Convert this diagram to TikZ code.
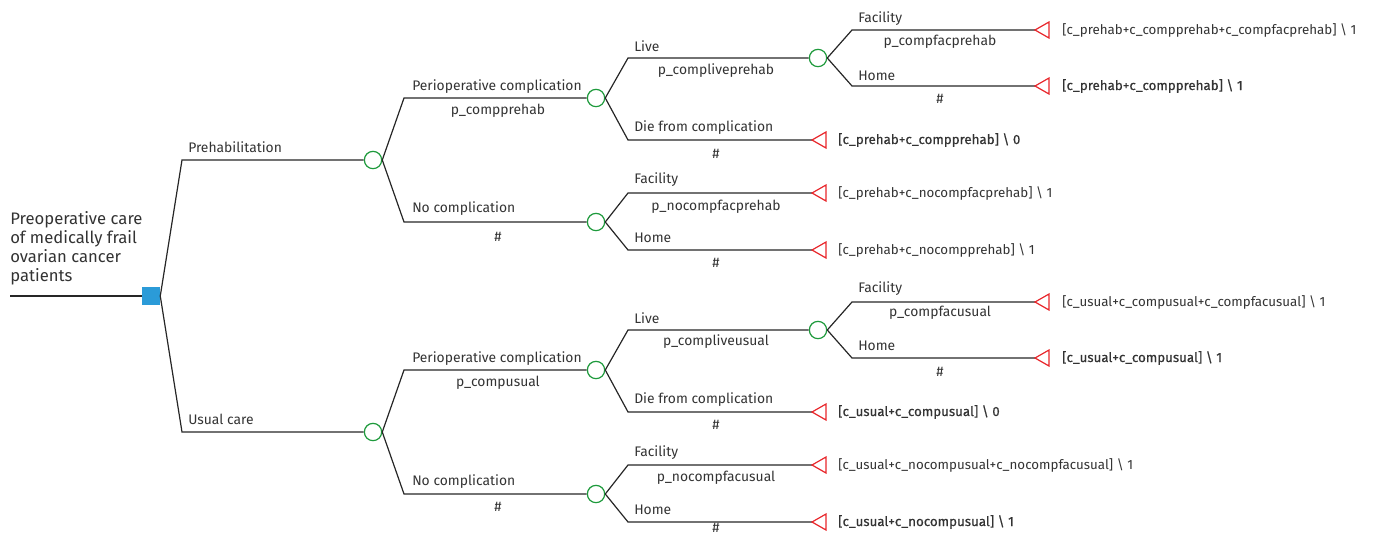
\documentclass[tikz,border=0pt]{standalone}
\usepackage{fontspec}
\setmainfont{Fira Sans}
\newfontfamily\medfont{Fira Sans}[FakeBold=0.6]
\usepackage{tikz}
\definecolor{sqblue}{HTML}{2B9BD8}
\definecolor{chgreen}{HTML}{1E9A3C}
\definecolor{tmred}{HTML}{E8262B}

\begin{document}
\begin{tikzpicture}[x=0.75pt, y=-0.75pt,
		branch/.style={draw=black!85, line width=0.9pt},
		decision/.style={rectangle, fill=sqblue, minimum size=13.5pt, inner sep=0pt},
		chance/.style={circle, draw=chgreen, fill=white, line width=0.9pt, minimum size=13pt, inner sep=0pt},
		payoff/.style={draw=tmred, line width=0.9pt, line join=miter},
		lab/.style={anchor=west, text=black!80, inner sep=0pt, font=\fontsize{10.4}{12}\selectfont},
		prob/.style={lab, anchor=center},
		cost/.style={lab, font=\fontsize{10}{12}\selectfont},
		costb/.style={lab, font=\medfont\fontsize{10}{12}\selectfont}]
				\useasboundingbox (0,0) rectangle (1373,536);
				% nodes
				\node[decision] (root) at (151,296) {};
				\coordinate (start) at (10,296);
				\node[chance] (cpre) at (373,160) {};
				\node[chance] (cusu) at (373,432) {};
				\node[chance] (cpc) at (596,98) {};
				\node[chance] (cpn) at (596,222) {};
				\node[chance] (cpl) at (818,58) {};
				\node[chance] (cuc) at (596,370) {};
				\node[chance] (cun) at (596,494) {};
				\node[chance] (cul) at (818,330) {};
				\coordinate (t1) at (1035,30);
				\coordinate (t2) at (1035,86);
				\coordinate (t3) at (812,140);
				\coordinate (t4) at (812,193);
				\coordinate (t5) at (812,250);
				\coordinate (t6) at (1035,302);
				\coordinate (t7) at (1035,358);
				\coordinate (t8) at (812,412);
				\coordinate (t9) at (812,465);
				\coordinate (t10) at (812,522);
				% branches
				\draw[branch] (start) -- (root.west);
				\draw[branch] (root.east) -- (182,160) -- (cpre.west);
				\draw[branch] (root.east) -- (182,432) -- (cusu.west);
				\draw[branch] (cpre.east) -- (404,98) -- (cpc.west);
				\draw[branch] (cpre.east) -- (404,222) -- (cpn.west);
				\draw[branch] (cpc.east) -- (628,58) -- (cpl.west);
				\draw[branch] (cpc.east) -- (628,140) -- (t3);
				\draw[branch] (cpl.east) -- (852,30) -- (t1);
				\draw[branch] (cpl.east) -- (852,86) -- (t2);
				\draw[branch] (cpn.east) -- (628,193) -- (t4);
				\draw[branch] (cpn.east) -- (628,250) -- (t5);
				\draw[branch] (cusu.east) -- (404,370) -- (cuc.west);
				\draw[branch] (cusu.east) -- (404,494) -- (cun.west);
				\draw[branch] (cuc.east) -- (628,330) -- (cul.west);
				\draw[branch] (cuc.east) -- (628,412) -- (t8);
				\draw[branch] (cul.east) -- (852,302) -- (t6);
				\draw[branch] (cul.east) -- (852,358) -- (t7);
				\draw[branch] (cun.east) -- (628,465) -- (t9);
				\draw[branch] (cun.east) -- (628,522) -- (t10);
				\foreach \t in {t1,t2,t3,t4,t5,t6,t7,t8,t9,t10}
					\draw[payoff] (\t) -- ++(14,-8) -- ++(0,16) -- cycle;
				% labels
				\node[lab, align=left, font=\fontsize{12.5}{14.25}\selectfont] (title) at (10,248)
					{Preoperative care\\of medically frail\\ovarian cancer\\patients};
				\node[lab] (lpre) at (188,147) {Prehabilitation};
				\node[lab] (lusu) at (188,419) {Usual care};
				\node[lab] (lpc) at (412,87) {Perioperative complication};
				\node[prob] (ppc) at (498,111) {p\_compprehab};
				\node[lab] (lpn) at (412,209) {No complication};
				\node[prob] (ppn) at (498,237) {\#};
				\node[lab] (lpl) at (634,46) {Live};
				\node[prob] (ppl) at (716,71) {p\_compliveprehab};
				\node[lab] (lpd) at (634,128) {Die from complication};
				\node[prob] (ppd) at (716,154) {\#};
				\node[lab] (lplf) at (858,19) {Facility};
				\node[prob] (pplf) at (940,42) {p\_compfacprehab};
				\node[lab] (lplh) at (858,76) {Home};
				\node[prob] (pplh) at (940,99) {\#};
				\node[lab] (lpnf) at (634,180) {Facility};
				\node[prob] (ppnf) at (716,207) {p\_nocompfacprehab};
				\node[lab] (lpnh) at (634,238) {Home};
				\node[prob] (ppnh) at (716,263) {\#};
				\node[lab] (luc) at (412,359) {Perioperative complication};
				\node[prob] (puc) at (498,383) {p\_compusual};
				\node[lab] (lun) at (412,482) {No complication};
				\node[prob] (pun) at (498,507) {\#};
				\node[lab] (lul) at (634,318) {Live};
				\node[prob] (pul) at (716,342) {p\_compliveusual};
				\node[lab] (lud) at (634,400) {Die from complication};
				\node[prob] (pud) at (716,425) {\#};
				\node[lab] (lulf) at (858,289) {Facility};
				\node[prob] (pulf) at (940,313) {p\_compfacusual};
				\node[lab] (lulh) at (858,346) {Home};
				\node[prob] (pulh) at (940,372) {\#};
				\node[lab] (lunf) at (634,453) {Facility};
				\node[prob] (punf) at (716,478) {p\_nocompfacusual};
				\node[lab] (lunh) at (634,510) {Home};
				\node[prob] (punh) at (716,528) {\#};
				% payoffs
				\node[cost] (v1) at (1062,30) {[c\_prehab+c\_compprehab+c\_compfacprehab] \textbackslash\ 1};
				\node[costb] (v2) at (1062,86) {[c\_prehab+c\_compprehab] \textbackslash\ 1};
				\node[costb] (v3) at (838,140) {[c\_prehab+c\_compprehab] \textbackslash\ 0};
				\node[cost] (v4) at (838,193) {[c\_prehab+c\_nocompfacprehab] \textbackslash\ 1};
				\node[cost] (v5) at (838,250) {[c\_prehab+c\_nocompprehab] \textbackslash\ 1};
				\node[cost] (v6) at (1062,302) {[c\_usual+c\_compusual+c\_compfacusual] \textbackslash\ 1};
				\node[costb] (v7) at (1062,358) {[c\_usual+c\_compusual] \textbackslash\ 1};
				\node[costb] (v8) at (838,412) {[c\_usual+c\_compusual] \textbackslash\ 0};
				\node[cost] (v9) at (838,465) {[c\_usual+c\_nocompusual+c\_nocompfacusual] \textbackslash\ 1};
				\node[costb] (v10) at (838,522) {[c\_usual+c\_nocompusual] \textbackslash\ 1};
			\end{tikzpicture}
\end{document}
